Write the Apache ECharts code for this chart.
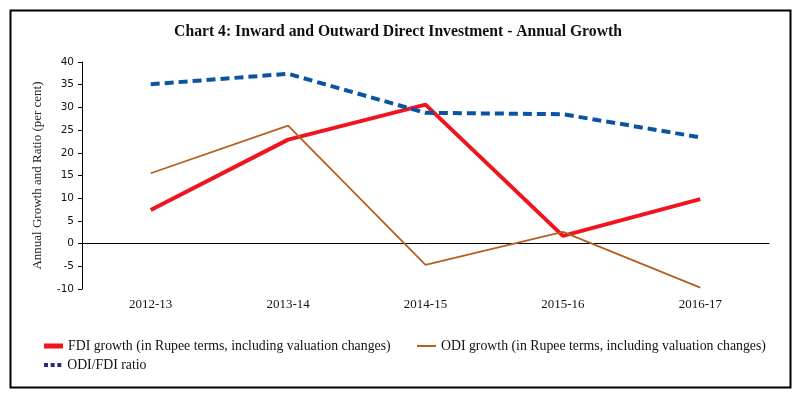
<!DOCTYPE html>
<html>
<head>
<meta charset="utf-8">
<script src="https://cdn.jsdelivr.net/npm/echarts@6/dist/echarts.min.js"></script>
<style>html,body{margin:0;padding:0;background:#fff;}#c{width:796px;height:393px;}</style>
</head>
<body>
<div id="c"></div>
<script>
const categories = ['2012-13', '2013-14', '2014-15', '2015-16', '2016-17'];
const fdiGrowth = [7.4, 22.9, 30.6, 1.7, 9.8];
const odiGrowth = [15.5, 26.0, -4.7, 2.6, -9.7];
const odiFdiRatio = [35.1, 37.4, 28.8, 28.5, 23.4];
const yTicks = { min: -10, max: 40, interval: 5 };
const names = [
  'FDI growth (in Rupee terms, including valuation changes)',
  'ODI growth (in Rupee terms, including valuation changes)',
  'ODI/FDI ratio'
];

const serif = '"Liberation Serif", "DejaVu Serif", serif';
const chart = echarts.init(document.getElementById('c'), null, { renderer: 'canvas' });
const legendText = { fontFamily: serif, fontSize: 13.8, color: '#111' };
chart.setOption({
  animation: false,
  backgroundColor: '#fff',
  title: {
    text: 'Chart 4: Inward and Outward Direct Investment - Annual Growth',
    left: 'center', top: 19,
    textStyle: { fontFamily: serif, fontWeight: 'bold', fontSize: 15.7, color: '#111' }
  },
  graphic: [{
    type: 'rect', left: 8, top: 8, shape: { width: 780, height: 377 },
    style: { fill: 'none', stroke: '#000', lineWidth: 2 }, silent: true, z: -1
  }],
  legend: [
    { data: [{ name: names[0], icon: 'rect' }], left: 44, top: 339, padding: 0, itemWidth: 19, itemHeight: 5, textStyle: legendText },
    { data: [{ name: names[1], icon: 'rect' }], left: 417, top: 339, padding: 0, itemWidth: 19, itemHeight: 2, textStyle: legendText },
    { data: [{ name: names[2], icon: 'path://M0,0h3v3h-3zM5,0h3v3h-3zM10,0h3v3h-3z', itemStyle: { color: '#2a2a7a' } }], left: 44, top: 358, padding: 0, itemWidth: 19, itemHeight: 4, textStyle: legendText }
  ],
  grid: { left: 82, right: 27, top: 62, bottom: 104 },
  xAxis: {
    type: 'category', data: categories, boundaryGap: true,
    axisLine: { onZero: true, lineStyle: { color: '#000', width: 1 } },
    axisTick: { show: false },
    axisLabel: { fontFamily: serif, fontSize: 13, color: '#111', margin: 9 },
    position: 'bottom'
  },
  yAxis: {
    type: 'value', min: yTicks.min, max: yTicks.max, interval: yTicks.interval,
    name: 'Annual Growth and Ratio (per cent)', nameLocation: 'middle', nameGap: 38,
    nameTextStyle: { fontFamily: serif, fontSize: 13, color: '#222' },
    axisLine: { show: true, lineStyle: { color: '#000', width: 1 } },
    axisTick: { show: true, length: 4, lineStyle: { color: '#000' } },
    axisLabel: { fontFamily: '"DejaVu Sans", sans-serif', fontSize: 10.5, color: '#111', margin: 8 },
    splitLine: { show: false }
  },
  series: [
    { name: names[0], type: 'line', data: fdiGrowth, symbol: 'none', color: '#f0141e',
      lineStyle: { width: 4, color: '#f0141e' } },
    { name: names[1], type: 'line', data: odiGrowth, symbol: 'none', color: '#b5601f',
      lineStyle: { width: 1.8, color: '#b5601f' } },
    { name: names[2], type: 'line', data: odiFdiRatio, symbol: 'none', color: '#0b55a0',
      lineStyle: { width: 4, color: '#0b55a0', type: [9, 5] } }
  ]
});
</script>
</body>
</html>
